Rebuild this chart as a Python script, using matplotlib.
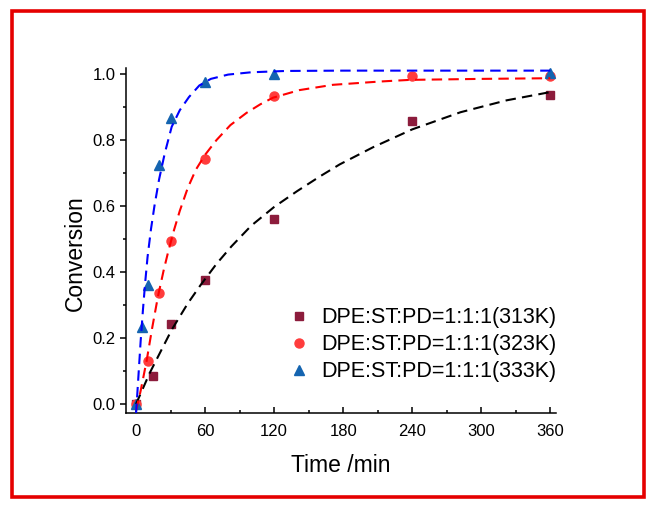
import matplotlib.pyplot as plt
from matplotlib.patches import Rectangle
from matplotlib.ticker import MultipleLocator

plt.rcParams['font.family'] = ['Liberation Sans', 'DejaVu Sans']

# Measured data
t_313 = [0, 15, 30, 60, 120, 240, 360]
c_313 = [0.0, 0.085, 0.243, 0.375, 0.561, 0.858, 0.937]

t_323 = [0, 10, 20, 30, 60, 120, 240, 360]
c_323 = [0.0, 0.130, 0.337, 0.494, 0.741, 0.933, 0.994, 0.995]

t_333 = [0, 5, 10, 20, 30, 60, 120, 360]
c_333 = [0.0, 0.235, 0.361, 0.724, 0.866, 0.977, 1.000, 1.002]

# Fit curves
fit_t_313 = [0, 12, 31, 45, 56, 70, 83, 100, 120, 140, 160, 177, 206,
             240, 282, 322, 360]
fit_c_313 = [0.0, 0.095, 0.225, 0.305, 0.36, 0.425, 0.478, 0.54, 0.597,
             0.645, 0.69, 0.726, 0.778, 0.832, 0.884, 0.92, 0.945]

fit_t_323 = [0, 4, 9.3, 14, 19, 24, 28, 33, 38, 45, 52, 60, 70, 82, 96,
             108, 119, 142, 171, 212, 238, 300, 360]
fit_c_323 = [-0.02, 0.04, 0.133, 0.23, 0.325, 0.405, 0.462, 0.527, 0.585,
             0.655, 0.71, 0.755, 0.80, 0.845, 0.882, 0.908, 0.928,
             0.951, 0.967, 0.977, 0.982, 0.985, 0.987]

fit_t_333 = [0, 2, 4, 6, 8, 10, 13, 16, 20, 25, 31, 38, 46, 55, 65, 80,
             100, 130, 180, 360]
fit_c_333 = [-0.03, 0.08, 0.19, 0.285, 0.37, 0.445, 0.53, 0.60, 0.68,
             0.76, 0.84, 0.89, 0.93, 0.965, 0.985, 0.998, 1.005, 1.009,
             1.01, 1.01]

labels = ['DPE:ST:PD=1:1:1(313K)', 'DPE:ST:PD=1:1:1(323K)',
          'DPE:ST:PD=1:1:1(333K)']

fig = plt.figure(figsize=(6.56, 5.07), dpi=100)
ax = fig.add_axes([0.1921, 0.1854, 0.6555, 0.6805])

# Red frame round the whole picture
fig.patches.append(Rectangle((0.019, 0.0207), 0.9627, 0.9576,
                             transform=fig.transFigure, fill=False,
                             edgecolor='#e50000', linewidth=2.6))

# Points
ax.plot(t_313, c_313, 's', color='#8c1c3c', markersize=5.5,
        linestyle='none', label=labels[0], zorder=2)
ax.plot(t_323, c_323, 'o', color='#ff3c3c', markersize=6.5,
        linestyle='none', label=labels[1], zorder=2)
ax.plot(t_333, c_333, '^', color='#1464b0', markersize=7.5,
        linestyle='none', label=labels[2], zorder=2)

# Dashed fits on top
ax.plot(fit_t_313, fit_c_313, color='black', lw=1.5, dashes=(5, 3),
        zorder=3)
ax.plot(fit_t_323, fit_c_323, color='red', lw=1.5, dashes=(5, 3),
        zorder=3)
ax.plot(fit_t_333, fit_c_333, color='blue', lw=1.5, dashes=(5, 3),
        zorder=3)

ax.set_xlim(-8.7, 365)
ax.set_ylim(-0.027, 1.018)

ax.xaxis.set_major_locator(MultipleLocator(60))
ax.xaxis.set_minor_locator(MultipleLocator(30))
ax.yaxis.set_major_locator(MultipleLocator(0.2))
ax.yaxis.set_minor_locator(MultipleLocator(0.1))
ax.yaxis.set_major_formatter(lambda v, p: f'{v:.1f}')

ax.spines['top'].set_visible(False)
ax.spines['right'].set_visible(False)
for s in ('left', 'bottom'):
    ax.spines[s].set_linewidth(1.1)

ax.tick_params(axis='x', which='major', direction='in', length=4,
               width=1.1, pad=8, labelsize=12)
ax.tick_params(axis='x', which='minor', direction='in', length=2.5,
               width=1.1)
ax.tick_params(axis='y', which='major', direction='out', length=4.5,
               width=1.1, pad=3, labelsize=12)
ax.tick_params(axis='y', which='minor', direction='out', length=2.5,
               width=1.1)

ax.set_xlabel('Time /min', fontsize=16.5)
ax.set_ylabel('Conversion', fontsize=16.5)
ax.xaxis.set_label_coords(0.5, -0.12)
ax.yaxis.set_label_coords(-0.09, 0.464)

ax.legend(loc='upper left', bbox_to_anchor=(0.377, 0.307), frameon=False,
          fontsize=15.5, handlelength=1.0, handletextpad=0.55,
          borderpad=0, borderaxespad=0, labelspacing=0.28)

fig.savefig('out.png', dpi=100)
